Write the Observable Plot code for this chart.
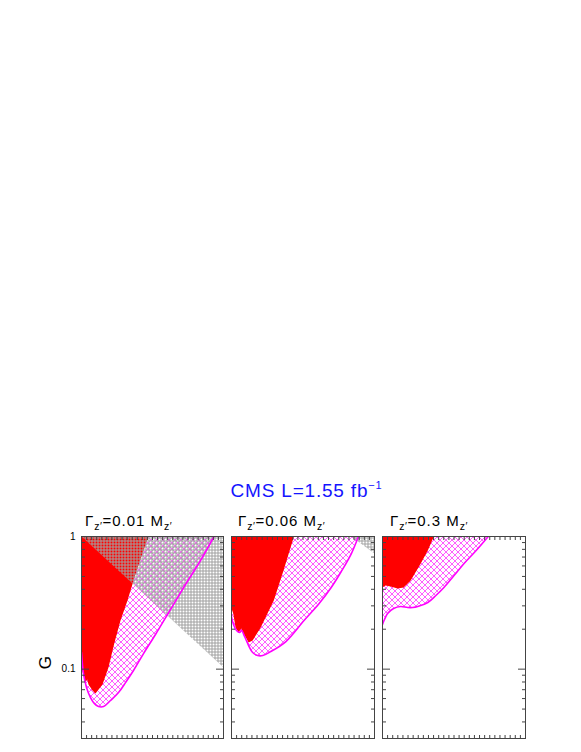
<!DOCTYPE html>
<html><head><meta charset="utf-8">
<script src="https://cdn.jsdelivr.net/npm/d3@7"></script>
<script src="https://cdn.jsdelivr.net/npm/@observablehq/plot@0.6"></script>
<style>
body{margin:0;background:#fff;}
#wrap{position:relative;width:581px;height:752px;overflow:hidden;background:#fff;font-family:"Liberation Sans",Arial,Helvetica,sans-serif;}
.title{position:absolute;left:0;width:613px;top:481px;text-align:center;font-size:19px;line-height:19px;letter-spacing:0.8px;color:#1414ff;white-space:nowrap;}
.title .sup{font-size:11px;position:relative;top:-8px;}
.plab{position:absolute;top:513px;font-size:15px;line-height:15px;letter-spacing:1px;color:#000;white-space:nowrap;}
.plab .s{font-size:10.5px;position:relative;top:4px;letter-spacing:0.5px;}
</style>
</head><body>
<svg width="0" height="0" style="position:absolute">
  <defs>
    <pattern id="magHatch" patternUnits="userSpaceOnUse" width="6" height="6">
      <path d="M0,0 L6,6 M6,0 L0,6" stroke="#ff4dff" stroke-width="0.9" fill="none"/>
    </pattern>
    <pattern id="grayGrid" patternUnits="userSpaceOnUse" width="3" height="3">
      <path d="M0,0.5 H3 M0.5,0 V3" stroke="#a0a0a0" stroke-width="1" fill="none"/>
    </pattern>
  </defs>
</svg>
<div id="wrap">
  <div class="title">CMS L=1.55 fb<span class="sup">−1</span></div>
</div>
<script>
// ---- data ----
const widthLabels = ["0.01", "0.06", "0.3"];
const yLabel = "G";
const xDomain = [0.5, 3.3];
const yDomain = [0.03, 1];
const xTicks = d3.range(6, 33).map(d => d / 10);
const yMinor = [0.03, 0.04, 0.05, 0.06, 0.07, 0.08, 0.09, 0.2, 0.3, 0.4, 0.5, 0.6, 0.7, 0.8, 0.9];
const yMajor = [1, 0.1];
const yTickLabels = ["1", "0.1"];

// Panel 1: width 0.01 M
const p1RedX = [0.5, 1.821, 1.683, 1.545, 1.407, 1.269, 1.151, 1.032, 0.914, 0.776, 0.717, 0.638, 0.612, 0.579, 0.52, 0.5];
const p1RedG = [1, 1, 0.707, 0.491, 0.329, 0.2325, 0.1587, 0.1028, 0.0765, 0.0655, 0.069, 0.0765, 0.0835, 0.0792, 0.0959, 0.1046];
const p1LimX = [0.5, 0.539, 0.599, 0.677, 0.756, 0.835, 0.934, 1.072, 1.23, 1.368, 1.525, 1.723, 1.959, 2.255, 2.551, 2.847, 3.113];
const p1LimG = [0.1334, 0.0926, 0.0727, 0.0611, 0.055, 0.0522, 0.0522, 0.058, 0.0666, 0.0792, 0.0976, 0.1311, 0.1824, 0.2815, 0.4345, 0.659, 1];
const p1GrayX = [0.5, 3.3, 3.3];
const p1GrayG = [1, 1, 0.103];

// Panel 2: width 0.06 M
const p2RedX = [0.5, 1.723, 1.525, 1.328, 1.072, 0.914, 0.835, 0.737, 0.691, 0.638, 0.579, 0.534, 0.5];
const p2RedG = [1, 1, 0.564, 0.329, 0.206, 0.1643, 0.1587, 0.1855, 0.2024, 0.1888, 0.206, 0.2626, 0.2864];
const p2LimX = [0.5, 0.539, 0.599, 0.658, 0.697, 0.756, 0.835, 0.914, 1.013, 1.111, 1.269, 1.565, 1.92, 2.216, 2.452, 2.649, 2.847, 2.985];
const p2LimG = [0.2492, 0.217, 0.1955, 0.1888, 0.1955, 0.1762, 0.1507, 0.1334, 0.1266, 0.1266, 0.1357, 0.1615, 0.2325, 0.3124, 0.4125, 0.5445, 0.744, 1];
const p2GrayX = [2.847, 3.3, 3.3];
const p2GrayG = [1, 1, 0.744];

// Panel 3: width 0.3 M
const p3RedX = [0.5, 1.506, 1.387, 1.249, 1.052, 0.914, 0.796, 0.658, 0.559, 0.5];
const p3RedG = [1, 1, 0.784, 0.626, 0.466, 0.4125, 0.405, 0.4196, 0.427, 0.4125];
const p3LimX = [0.5, 0.539, 0.599, 0.717, 0.855, 0.993, 1.092, 1.19, 1.387, 1.545, 1.703, 1.9, 2.097, 2.334, 2.571];
const p3LimG = [0.217, 0.2366, 0.2626, 0.2864, 0.2965, 0.2914, 0.2914, 0.2965, 0.318, 0.359, 0.4125, 0.508, 0.626, 0.784, 1];
const p3GrayX = [];
const p3GrayG = [];

// ---- build ----
const zip = (xs, gs) => xs.map((x, i) => ({x, g: gs[i]}));
const panels = [
  {red: zip(p1RedX, p1RedG), lim: zip(p1LimX, p1LimG), gray: zip(p1GrayX, p1GrayG)},
  {red: zip(p2RedX, p2RedG), lim: zip(p2LimX, p2LimG), gray: zip(p2GrayX, p2GrayG)},
  {red: zip(p3RedX, p3RedG), lim: zip(p3LimX, p3LimG), gray: zip(p3GrayX, p3GrayG)}
];
const frameLeft = [81, 231, 382];
const frameWidth = [142, 143, 143];
const labelLeft = [85, 238, 390];
const wrap = document.getElementById("wrap");
const axisStyle = {stroke: "#444", tickFormat: () => "", label: null};

panels.forEach((p, k) => {
  const ml = k === 0 ? 50 : 2;
  const marks = [
    Plot.areaY(p.lim, {x: "x", y1: "g", y2: yDomain[1], fill: "url(#magHatch)", curve: "catmull-rom", clip: true}),
    Plot.line(p.red, {x: "x", y: "g", fill: "#ff0000", stroke: "none", clip: true})
  ];
  if (p.gray.length) marks.push(Plot.line(p.gray, {x: "x", y: "g", fill: "url(#grayGrid)", stroke: "none", clip: true}));
  marks.push(
    Plot.line(p.lim, {x: "x", y: "g", stroke: "#ff00ff", strokeWidth: 1.6, curve: "catmull-rom", clip: true}),
    Plot.axisX({anchor: "bottom", ticks: xTicks, tickSize: -3, ...axisStyle}),
    Plot.axisX({anchor: "top", ticks: xTicks, tickSize: -3, ...axisStyle}),
    Plot.axisY({anchor: "left", ticks: yMinor, tickSize: -4, ...axisStyle}),
    Plot.axisY({anchor: "right", ticks: yMinor, tickSize: -4, ...axisStyle}),
    Plot.axisY({anchor: "left", ticks: yMajor, tickSize: -8, ...axisStyle}),
    Plot.axisY({anchor: "right", ticks: yMajor, tickSize: -8, ...axisStyle})
  );
  if (k === 0) {
    marks.push(
      Plot.text(yMajor, {y: d => d, text: (d, i) => yTickLabels[i], frameAnchor: "left", dx: -6,
        textAnchor: "end", fontSize: 10, fill: "#000"}),
      Plot.text([yLabel], {y: [yMajor[1]], text: d => d, frameAnchor: "left", dx: -36, rotate: -90,
        fontSize: 17, fill: "#000"})
    );
  }
  marks.push(Plot.frame({stroke: "#444", strokeWidth: 1}));
  const svg = Plot.plot({
    width: ml + frameWidth[k] + 2, height: 206,
    marginLeft: ml, marginRight: 2, marginTop: 2, marginBottom: 2,
    x: {domain: xDomain, axis: null},
    y: {type: "log", domain: yDomain, axis: null, label: null},
    style: {background: "none", overflow: "visible", fontFamily: "'Liberation Sans', Arial, sans-serif", fontSize: "10px"},
    marks
  });
  svg.style.position = "absolute";
  svg.style.left = (frameLeft[k] - ml) + "px";
  svg.style.top = "534px";
  wrap.appendChild(svg);

  const lab = document.createElement("div");
  lab.className = "plab";
  lab.style.left = labelLeft[k] + "px";
  lab.innerHTML = `Γ<span class="s">z′</span>=${widthLabels[k]} M<span class="s">z′</span>`;
  wrap.appendChild(lab);
});
</script>
</body></html>
